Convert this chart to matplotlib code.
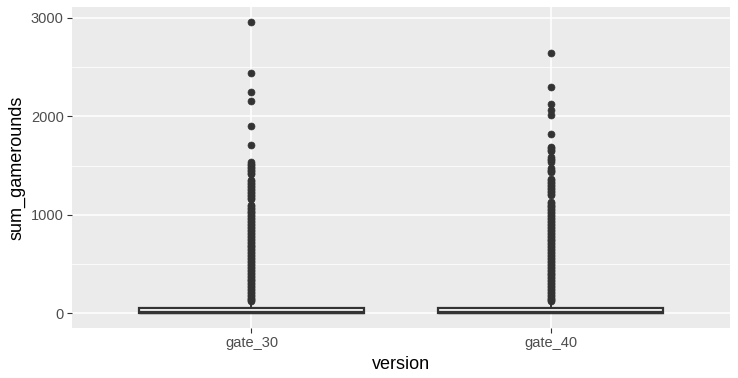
import matplotlib
matplotlib.use("Agg")
import matplotlib.pyplot as plt

categories = ["gate_30", "gate_40"]
q1 = [5, 5]
median = [16, 16]
q3 = [51, 52]
whisker_low = [0, 0]
whisker_high = [120, 120]

outliers_gate_30 = [2961, 2438, 2251, 2156, 1906, 1705,
                    1532, 1517, 1502, 1487, 1472, 1457, 1442, 1427, 1412,
                    1356, 1341, 1326, 1311, 1296, 1281, 1266, 1251, 1236, 1221,
                    1206, 1191, 1176, 1161,
                    1104, 1089, 1074, 1059, 1044, 1029, 1014, 999, 984, 969, 954,
                    939, 924, 909, 894, 879, 864, 849, 834, 819, 804, 789, 774,
                    759, 744, 729, 714, 699, 684, 669, 654, 639, 624, 609, 594,
                    579, 564, 549, 534, 519, 504, 489, 474, 459, 444, 429, 414,
                    399, 384, 369, 354, 339, 324, 309, 294, 279, 264, 249, 234,
                    219, 204, 189, 174, 159, 144, 131, 123]
outliers_gate_40 = [2640, 2294, 2124, 2063, 2015, 1819,
                    1690, 1675, 1660, 1648,
                    1585, 1570, 1555, 1540,
                    1475, 1460, 1445, 1432,
                    1365, 1350, 1335, 1320, 1305, 1290, 1275, 1260, 1245, 1230,
                    1215, 1200,
                    1135, 1120, 1105, 1090, 1075, 1060, 1045, 1030, 1015, 1000,
                    985, 970, 955, 940, 925, 910, 895, 880, 865, 850, 835, 820,
                    805, 790, 775, 760, 745, 730, 715, 700, 685, 670, 655, 640,
                    625, 610, 595, 580, 565, 550, 535, 520, 505, 490, 475, 460,
                    445, 430, 415, 400, 385, 370, 355, 340, 325, 310, 295, 280,
                    265, 250, 235, 220, 205, 190, 175, 160, 145, 132, 123]

y_ticks = [0, 1000, 2000, 3000]
y_minor = [500, 1500, 2500]
x_label = "version"
y_label = "sum_gamerounds"

plt.rcParams['font.family'] = ['Liberation Sans', 'DejaVu Sans']

fig = plt.figure(figsize=(7.38, 3.78), dpi=100)
ax = fig.add_axes([72/738, 1 - 328/378, (730-72)/738, (328-7)/378])
ax.set_facecolor("#EBEBEB")

outliers = [outliers_gate_30, outliers_gate_40]
stats = []
for i, c in enumerate(categories):
    stats.append(dict(label=c, q1=q1[i], med=median[i], q3=q3[i],
                      whislo=whisker_low[i], whishi=whisker_high[i],
                      fliers=outliers[i]))

positions = [1, 2]
ax.bxp(stats, positions=positions, widths=0.75, patch_artist=True,
       showcaps=False,
       boxprops=dict(facecolor="white", edgecolor="#333333", linewidth=1.6),
       medianprops=dict(color="#333333", linewidth=2.4),
       whiskerprops=dict(color="#333333", linewidth=1.4),
       flierprops=dict(marker="o", markersize=5.0, markeredgewidth=0.5,
                       markerfacecolor="#333333", markeredgecolor="#333333",
                       linestyle="none"),
       zorder=3)

ymax = 2961
ax.set_ylim(-0.05 * ymax, ymax * 1.05)
ax.set_xlim(0.4, 2.6)

ax.set_yticks(y_ticks)
ax.set_yticklabels([str(v) for v in y_ticks])
ax.set_yticks(y_minor, minor=True)
ax.set_xticks(positions)
ax.set_xticklabels(categories)

ax.grid(which="major", color="white", linewidth=1.1, zorder=0)
ax.grid(which="minor", axis="y", color="white", linewidth=0.55, zorder=0)
ax.set_axisbelow(True)
for s in ax.spines.values():
    s.set_visible(False)

ax.tick_params(which="major", length=3.5, width=0.8, color="#333333",
               labelcolor="#4D4D4D", labelsize=10.5, pad=2.5)
ax.tick_params(which="minor", length=0)

ax.set_xlabel(x_label, fontsize=13, color="black", labelpad=4)
ax.set_ylabel(y_label, fontsize=13, color="black", labelpad=4)

fig.savefig("out.png", dpi=100, facecolor="white")
